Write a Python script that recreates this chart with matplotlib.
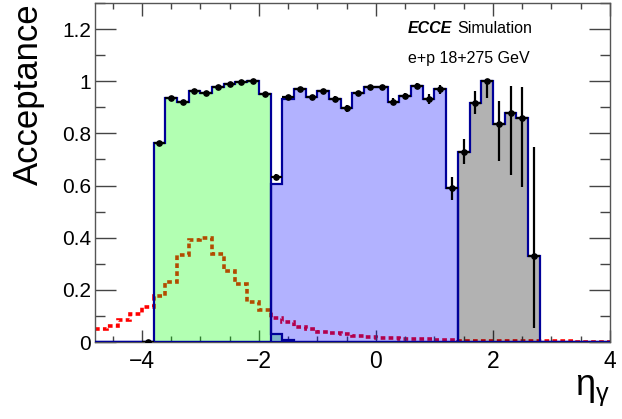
import numpy as np
import matplotlib
matplotlib.use("Agg")
import matplotlib.pyplot as plt
from matplotlib.ticker import MultipleLocator, FixedFormatter, FixedLocator

plt.rcParams['font.family'] = ['Liberation Sans', 'DejaVu Sans']
plt.rcParams['mathtext.fontset'] = 'dejavusans'

# binning: 0.2 wide bins over the plotted eta range
bin_width = 0.2
eta_lo, eta_hi = -4.8, 4.0

# photon eta distribution (arbitrary normalisation), one value per bin from -4.8
eta_dist = [0.050, 0.063, 0.084, 0.106, 0.133, 0.177, 0.231, 0.333, 0.391, 0.400,
            0.336, 0.272, 0.222, 0.155, 0.123, 0.093, 0.075, 0.059, 0.049, 0.038,
            0.033, 0.031, 0.024, 0.020, 0.017, 0.014, 0.013, 0.012, 0.010, 0.009,
            0.007, 0.005, 0.004, 0.004, 0.003, 0.003, 0.003, 0.002, 0.002, 0.002,
            0.002, 0.001, 0.001, 0.001]

# per-calorimeter acceptance (first bin low edge given with each)
eemc_start = -3.8
eemc_acc = [0.764, 0.934, 0.919, 0.962, 0.953, 0.979, 0.991, 0.996, 1.000, 0.950,
            0.030, 0.006]
barrel_start = -1.8
barrel_acc = [0.605, 0.932, 0.969, 0.941, 0.964, 0.932, 0.896, 0.956, 0.977, 0.977,
              0.921, 0.943, 0.983, 0.931, 0.969, 0.589]
fwd_start = 1.4
fwd_acc = [0.730, 0.918, 1.000, 0.835, 0.877, 0.858, 0.331]

# total acceptance with asymmetric errors, bins from -4.0
tot_start = -4.0
tot_acc = [0.000, 0.764, 0.934, 0.919, 0.962, 0.953, 0.979, 0.991, 0.996, 1.000,
           0.950, 0.634, 0.938, 0.969, 0.941, 0.964, 0.932, 0.896, 0.956, 0.977,
           0.977, 0.921, 0.943, 0.983, 0.931, 0.969, 0.589, 0.730, 0.918, 1.000,
           0.835, 0.877, 0.858, 0.331]
tot_err_lo = [0.0, 0.006, 0.005, 0.005, 0.005, 0.005, 0.004, 0.004, 0.003, 0.002,
              0.005, 0.011, 0.006, 0.005, 0.006, 0.008, 0.010, 0.013, 0.008, 0.006,
              0.006, 0.013, 0.012, 0.010, 0.019, 0.017, 0.043, 0.048, 0.045, 0.066,
              0.141, 0.237, 0.263, 0.279]
tot_err_hi = [0.0, 0.006, 0.005, 0.005, 0.005, 0.005, 0.004, 0.004, 0.003, 0.0,
              0.005, 0.011, 0.006, 0.005, 0.006, 0.008, 0.010, 0.013, 0.008, 0.006,
              0.006, 0.013, 0.012, 0.010, 0.019, 0.017, 0.043, 0.048, 0.045, 0.0,
              0.090, 0.105, 0.121, 0.418]

edges = np.round(np.arange(eta_lo, eta_hi + bin_width / 2, bin_width), 1)
nbins = len(edges) - 1


def full_range(start, vals):
    # place a partial histogram onto the full binning, zeros elsewhere
    out = np.zeros(nbins)
    i0 = int(round((start - eta_lo) / bin_width))
    out[i0:i0 + len(vals)] = vals
    return out


fig = plt.figure(figsize=(6.22, 4.19), dpi=100)
ax = fig.add_axes([95 / 622, 1 - 342 / 419, 515 / 622, 339 / 419])

# eta distribution sits under the translucent fills
ax.stairs(eta_dist, edges, baseline=None, color='red', lw=2.6,
          linestyle=(0, (1.3, 0.9)), zorder=1)

for start, vals, col in [(eemc_start, eemc_acc, (0, 1, 0)),
                         (barrel_start, barrel_acc, (0, 0, 1)),
                         (fwd_start, fwd_acc, (0, 0, 0))]:
    h = full_range(start, vals)
    ax.stairs(h, edges, fill=True, color=col, alpha=0.3, lw=0, zorder=2)
    ax.stairs(h, edges, color='#000099', lw=1.6, zorder=3)

x_tot = tot_start + bin_width * (np.arange(len(tot_acc)) + 0.5)
ax.errorbar(x_tot, tot_acc, xerr=bin_width / 2, yerr=[tot_err_lo, tot_err_hi],
            fmt='o', color='black', ms=3.8, lw=1.6, capsize=0, zorder=4)

ax.set_xlim(eta_lo, eta_hi)
ax.set_ylim(0, 1.3)

ax.xaxis.set_major_locator(MultipleLocator(2))
ax.xaxis.set_minor_locator(MultipleLocator(0.5))
ax.xaxis.set_major_formatter(plt.FuncFormatter(lambda v, p: f'{v:.0f}'.replace('-', '\u2212')))
ax.yaxis.set_major_locator(FixedLocator([0, 0.2, 0.4, 0.6, 0.8, 1.0, 1.2]))
ax.yaxis.set_major_formatter(FixedFormatter(['0', '0.2', '0.4', '0.6', '0.8', '1', '1.2']))
ax.yaxis.set_minor_locator(MultipleLocator(0.1))

ax.tick_params(axis='both', which='both', direction='in', top=True, right=True,
               color='#444444', width=1.0)
ax.tick_params(axis='x', which='major', length=9, labelsize=16.5, pad=6)
ax.tick_params(axis='x', which='minor', length=4.5)
ax.tick_params(axis='y', which='major', length=15, labelsize=15, pad=3)
ax.tick_params(axis='y', which='minor', length=7.5)
for s in ax.spines.values():
    s.set_color('#555555')
    s.set_linewidth(1.0)

ax.set_ylabel('Acceptance', fontsize=25, loc='top', labelpad=12)
ax.set_xlabel(r'$\mathregular{\eta_{\gamma}}$', fontsize=26, loc='right', labelpad=0)

ax.text(0.54, 1.184, 'ECCE', fontsize=11.5, fontweight='bold', style='italic',
        va='baseline', ha='left')
ax.text(1.39, 1.184, 'Simulation', fontsize=11.5, va='baseline', ha='left')
ax.text(0.54, 1.069, 'e+p 18+275 GeV', fontsize=11.5, va='baseline', ha='left')

fig.savefig('out.png', dpi=100)
